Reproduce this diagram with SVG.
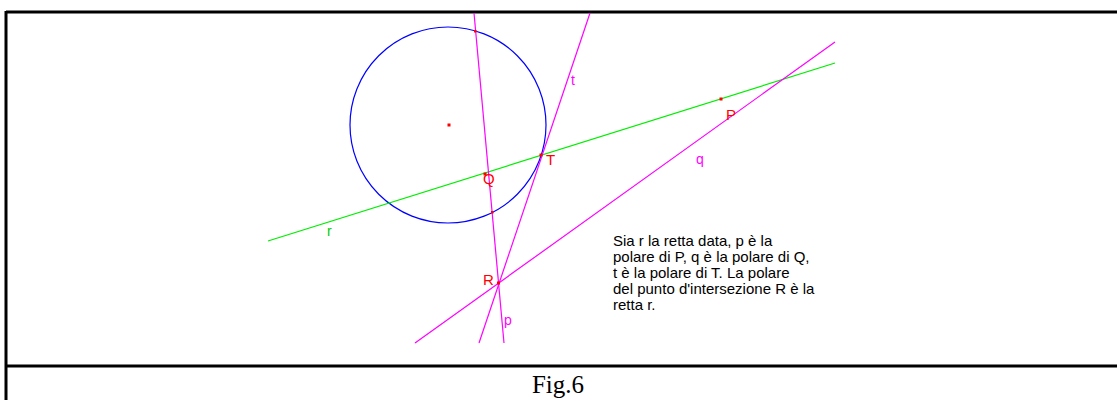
<svg xmlns="http://www.w3.org/2000/svg" width="1117" height="400" viewBox="0 0 1117 400">
<style>
.frame{stroke:#000;stroke-width:3;fill:none}
.mag{stroke:#ff00ff;stroke-width:1.2;fill:none}
.grn{stroke:#00ee00;stroke-width:1.2;fill:none}
.blu{stroke:#0000ff;stroke-width:1.2;fill:none}
.pt{fill:#ff0000}
.lblR{font-family:"Liberation Sans",Arial,sans-serif;font-size:15px;fill:#ff0000}
.lblM{font-family:"Liberation Sans",Arial,sans-serif;font-size:14px;fill:#ff00ff}
.lblG{font-family:"Liberation Sans",Arial,sans-serif;font-size:14px;fill:#00cc00}
.note{font-family:"Liberation Sans",Arial,sans-serif;font-size:15px;fill:#000}
.cap{font-family:"Liberation Serif","Times New Roman",serif;font-size:25px;fill:#000}
</style>
<rect width="1117" height="400" fill="#fff"/>
<g id="frame">
<line class="frame" x1="6" y1="12" x2="1117" y2="12"/>
<line class="frame" x1="6" y1="11" x2="6" y2="400"/>
<line class="frame" x1="6" y1="366" x2="1117" y2="366"/>
</g>
<g id="circle"><circle class="blu" cx="448" cy="125" r="98"/></g>
<g id="connectors">
<line id="r" class="grn" x1="268" y1="241" x2="835" y2="63"/>
<line id="p" class="mag" x1="474" y1="13" x2="504" y2="343"/>
<line id="t" class="mag" x1="590" y1="13" x2="479" y2="343"/>
<line id="q" class="mag" x1="835" y1="42" x2="415" y2="343"/>
</g>
<g id="points">
<rect class="pt" x="447.5" y="123.5" width="3" height="3"/>
<rect class="pt" x="719.5" y="97.5" width="3" height="3"/>
<rect class="pt" x="483.5" y="172.5" width="3" height="3"/>
<rect class="pt" x="539.5" y="153.5" width="3" height="3"/>
<rect class="pt" x="497" y="281.5" width="3" height="3"/>
<rect class="pt" x="491" y="211" width="2.5" height="2.5"/>
<rect class="pt" x="474" y="30" width="2.5" height="2.5"/>
</g>
<g id="labels">
<text class="lblR" x="726" y="120">P</text>
<text class="lblR" x="546" y="165">T</text>
<text class="lblR" x="483" y="184">Q</text>
<text class="lblR" x="483" y="285">R</text>
<text class="lblM" x="571" y="85">t</text>
<text class="lblM" x="696" y="164">q</text>
<text class="lblM" x="504" y="325">p</text>
<text class="lblG" x="327" y="236">r</text>
</g>
<g id="note">
<text class="note" x="613" y="246">Sia r la retta data, p è la</text>
<text class="note" x="613" y="262">polare di P, q è la polare di Q,</text>
<text class="note" x="613" y="278">t è la polare di T. La polare</text>
<text class="note" x="613" y="294">del punto d'intersezione R è la</text>
<text class="note" x="613" y="310">retta r.</text>
</g>
<text class="cap" x="558" y="393" text-anchor="middle">Fig.6</text>
</svg>
